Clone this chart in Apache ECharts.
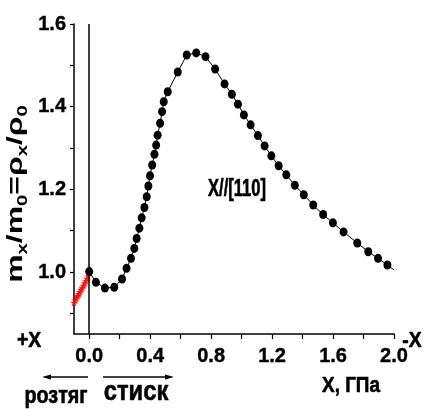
<!DOCTYPE html>
<html>
<head>
<meta charset="utf-8">
<script src="https://cdn.jsdelivr.net/npm/echarts@6/dist/echarts.min.js"></script>
<style>
  html, body { margin: 0; padding: 0; background: #fff; }
  #chart { width: 438px; height: 409px; }
</style>
</head>
<body>
<div id="chart"></div>
<script>
// measured curve, X//[110]
const pressure = [0.000, 0.044, 0.103, 0.164, 0.215, 0.245, 0.274, 0.296, 0.311, 0.329,
  0.344, 0.362, 0.377, 0.388, 0.399, 0.413, 0.428, 0.439, 0.449, 0.465,
  0.478, 0.489, 0.515, 0.581, 0.640, 0.702, 0.763, 0.826, 0.888, 0.936,
  0.976, 1.015, 1.059, 1.107, 1.151, 1.195, 1.243, 1.293, 1.349, 1.408,
  1.470, 1.535, 1.599, 1.669, 1.759, 1.831, 1.895, 1.957, 2.000];
const massRatio = [1.001, 0.975, 0.961, 0.963, 0.983, 1.009, 1.033, 1.057, 1.081, 1.106,
  1.131, 1.156, 1.182, 1.208, 1.233, 1.259, 1.285, 1.307, 1.331, 1.360,
  1.388, 1.412, 1.436, 1.484, 1.525, 1.530, 1.521, 1.491, 1.455, 1.430,
  1.406, 1.380, 1.356, 1.330, 1.305, 1.281, 1.257, 1.235, 1.210, 1.187,
  1.162, 1.139, 1.119, 1.097, 1.070, 1.049, 1.033, 1.017, 1.005];
// tension side (red stars)
const tensionX = [-0.100, -0.092, -0.085, -0.077, -0.069, -0.062, -0.054, -0.046, -0.038, -0.031, -0.023, -0.015, -0.008];
const tensionY = [0.926, 0.931, 0.937, 0.942, 0.947, 0.952, 0.957, 0.962, 0.967, 0.973, 0.978, 0.984, 0.990];

const xTickVals = [0, 0.2, 0.4, 0.6, 0.8, 1.0, 1.2, 1.4, 1.6, 1.8, 2.0];
const xLabelVals = [0, 0.4, 0.8, 1.2, 1.6, 2.0];
const yTickVals = [0.9, 1.0, 1.1, 1.2, 1.3, 1.4, 1.5, 1.6];
const yLabelVals = [1.0, 1.2, 1.4, 1.6];

const FW = "'Liberation Sans', Arial, sans-serif";

var curve = pressure.map(function (p, i) {
  // last point is only the end of the line, no marker
  if (i === pressure.length - 1) return { value: [p, massRatio[i]], symbol: 'none' };
  return [p, massRatio[i]];
});
var tension = tensionX.map(function (p, i) { return [p, tensionY[i]]; });

// narrow-looking bold text: draw Liberation Sans and squeeze it a bit
function txt(x, y, s, size, sx) {
  return {
    type: 'text', x: x, y: y, scaleX: sx, silent: true,
    style: {
      text: s, fill: '#000', fontSize: size, fontWeight: 'bold', fontFamily: FW,
      stroke: '#000', lineWidth: 0.6,
      align: 'center', verticalAlign: 'middle'
    }
  };
}
function arrow(x1, x2, y) {
  var dir = x2 > x1 ? 1 : -1;
  return {
    type: 'group', silent: true,
    children: [
      { type: 'line', shape: { x1: x1, y1: y, x2: x2 - dir * 6, y2: y }, style: { stroke: '#000', lineWidth: 1.3 } },
      { type: 'polygon', shape: { points: [[x2, y], [x2 - dir * 9, y - 2.5], [x2 - dir * 9, y + 2.5]] }, style: { fill: '#000' } }
    ]
  };
}

var axisCommon = {
  type: 'value',
  splitLine: { show: false },
  axisLine: { show: true, onZero: false, lineStyle: { color: '#000', width: 1.5 } },
  axisTick: { show: true, length: 4, lineStyle: { color: '#000', width: 1.2 } },
  axisLabel: {
    color: '#000', fontFamily: FW, fontWeight: 'bold', fontSize: 20,
    textBorderColor: '#000', textBorderWidth: 0.4
  }
};

var chart = echarts.init(document.getElementById('chart'));
chart.setOption({
  animation: false,
  backgroundColor: '#fff',
  grid: { left: 74, right: 44, top: 24, bottom: 75 },
  xAxis: Object.assign({}, axisCommon, {
    min: -0.1, max: 2.0,
    axisTick: Object.assign({}, axisCommon.axisTick, { customValues: xTickVals, length: 5 }),
    axisLabel: Object.assign({}, axisCommon.axisLabel, {
      customValues: xLabelVals, margin: 12,
      formatter: function (v) { return v.toFixed(1); }
    })
  }),
  yAxis: Object.assign({}, axisCommon, {
    min: 0.85, max: 1.6,
    axisTick: Object.assign({}, axisCommon.axisTick, { customValues: yTickVals }),
    axisLabel: Object.assign({}, axisCommon.axisLabel, {
      customValues: yLabelVals, margin: 8,
      formatter: function (v) { return v.toFixed(1); }
    })
  }),
  series: [
    {
      name: 'compression',
      type: 'line',
      data: curve,
      symbol: 'circle',
      symbolSize: [8, 9],
      itemStyle: { color: '#000' },
      lineStyle: { color: '#000', width: 1 },
      z: 3,
      markLine: {
        silent: true,
        symbol: 'none',
        label: { show: false },
        lineStyle: { color: '#000', type: 'solid', width: 1.5 },
        data: [{ xAxis: 0 }]
      }
    },
    {
      name: 'tension',
      type: 'scatter',
      data: tension,
      symbol: 'path://M0,-10L2.2,-3.1L9.5,-3.1L3.6,1.2L5.9,8.1L0,3.8L-5.9,8.1L-3.6,1.2L-9.5,-3.1L-2.2,-3.1Z',
      symbolSize: 8,
      itemStyle: { color: '#ff0000' },
      z: 2
    }
  ],
  graphic: [
    {
      type: 'text', x: 16, y: 194, rotation: Math.PI / 2, scaleX: 1.45, silent: true,
      style: {
        text: '{m|m}{s|x}{m|/m}{s|0}{m|=ρ}{s|x}{m|/ρ}{s|0}',
        align: 'center', verticalAlign: 'middle', fill: '#000',
        rich: {
          m: { fontSize: 22, fontWeight: 'bold', fontFamily: FW, lineHeight: 28, verticalAlign: 'middle', fill: '#000' },
          s: { fontSize: 14, fontWeight: 'bold', fontFamily: FW, lineHeight: 14, verticalAlign: 'bottom', fill: '#000' }
        }
      }
    },
    txt(237, 190, 'X//[110]', 23, 0.72),
    txt(29, 341, '+X', 22, 0.88),
    txt(412, 341, '-X', 22, 0.88),
    txt(351, 386, 'X, ГПа', 22, 0.86),
    txt(56, 397, 'розтяг', 23, 0.86),
    txt(136, 393, 'стиск', 27, 0.88),
    arrow(88, 42, 377),
    arrow(103, 174, 377)
  ]
});
</script>
</body>
</html>
